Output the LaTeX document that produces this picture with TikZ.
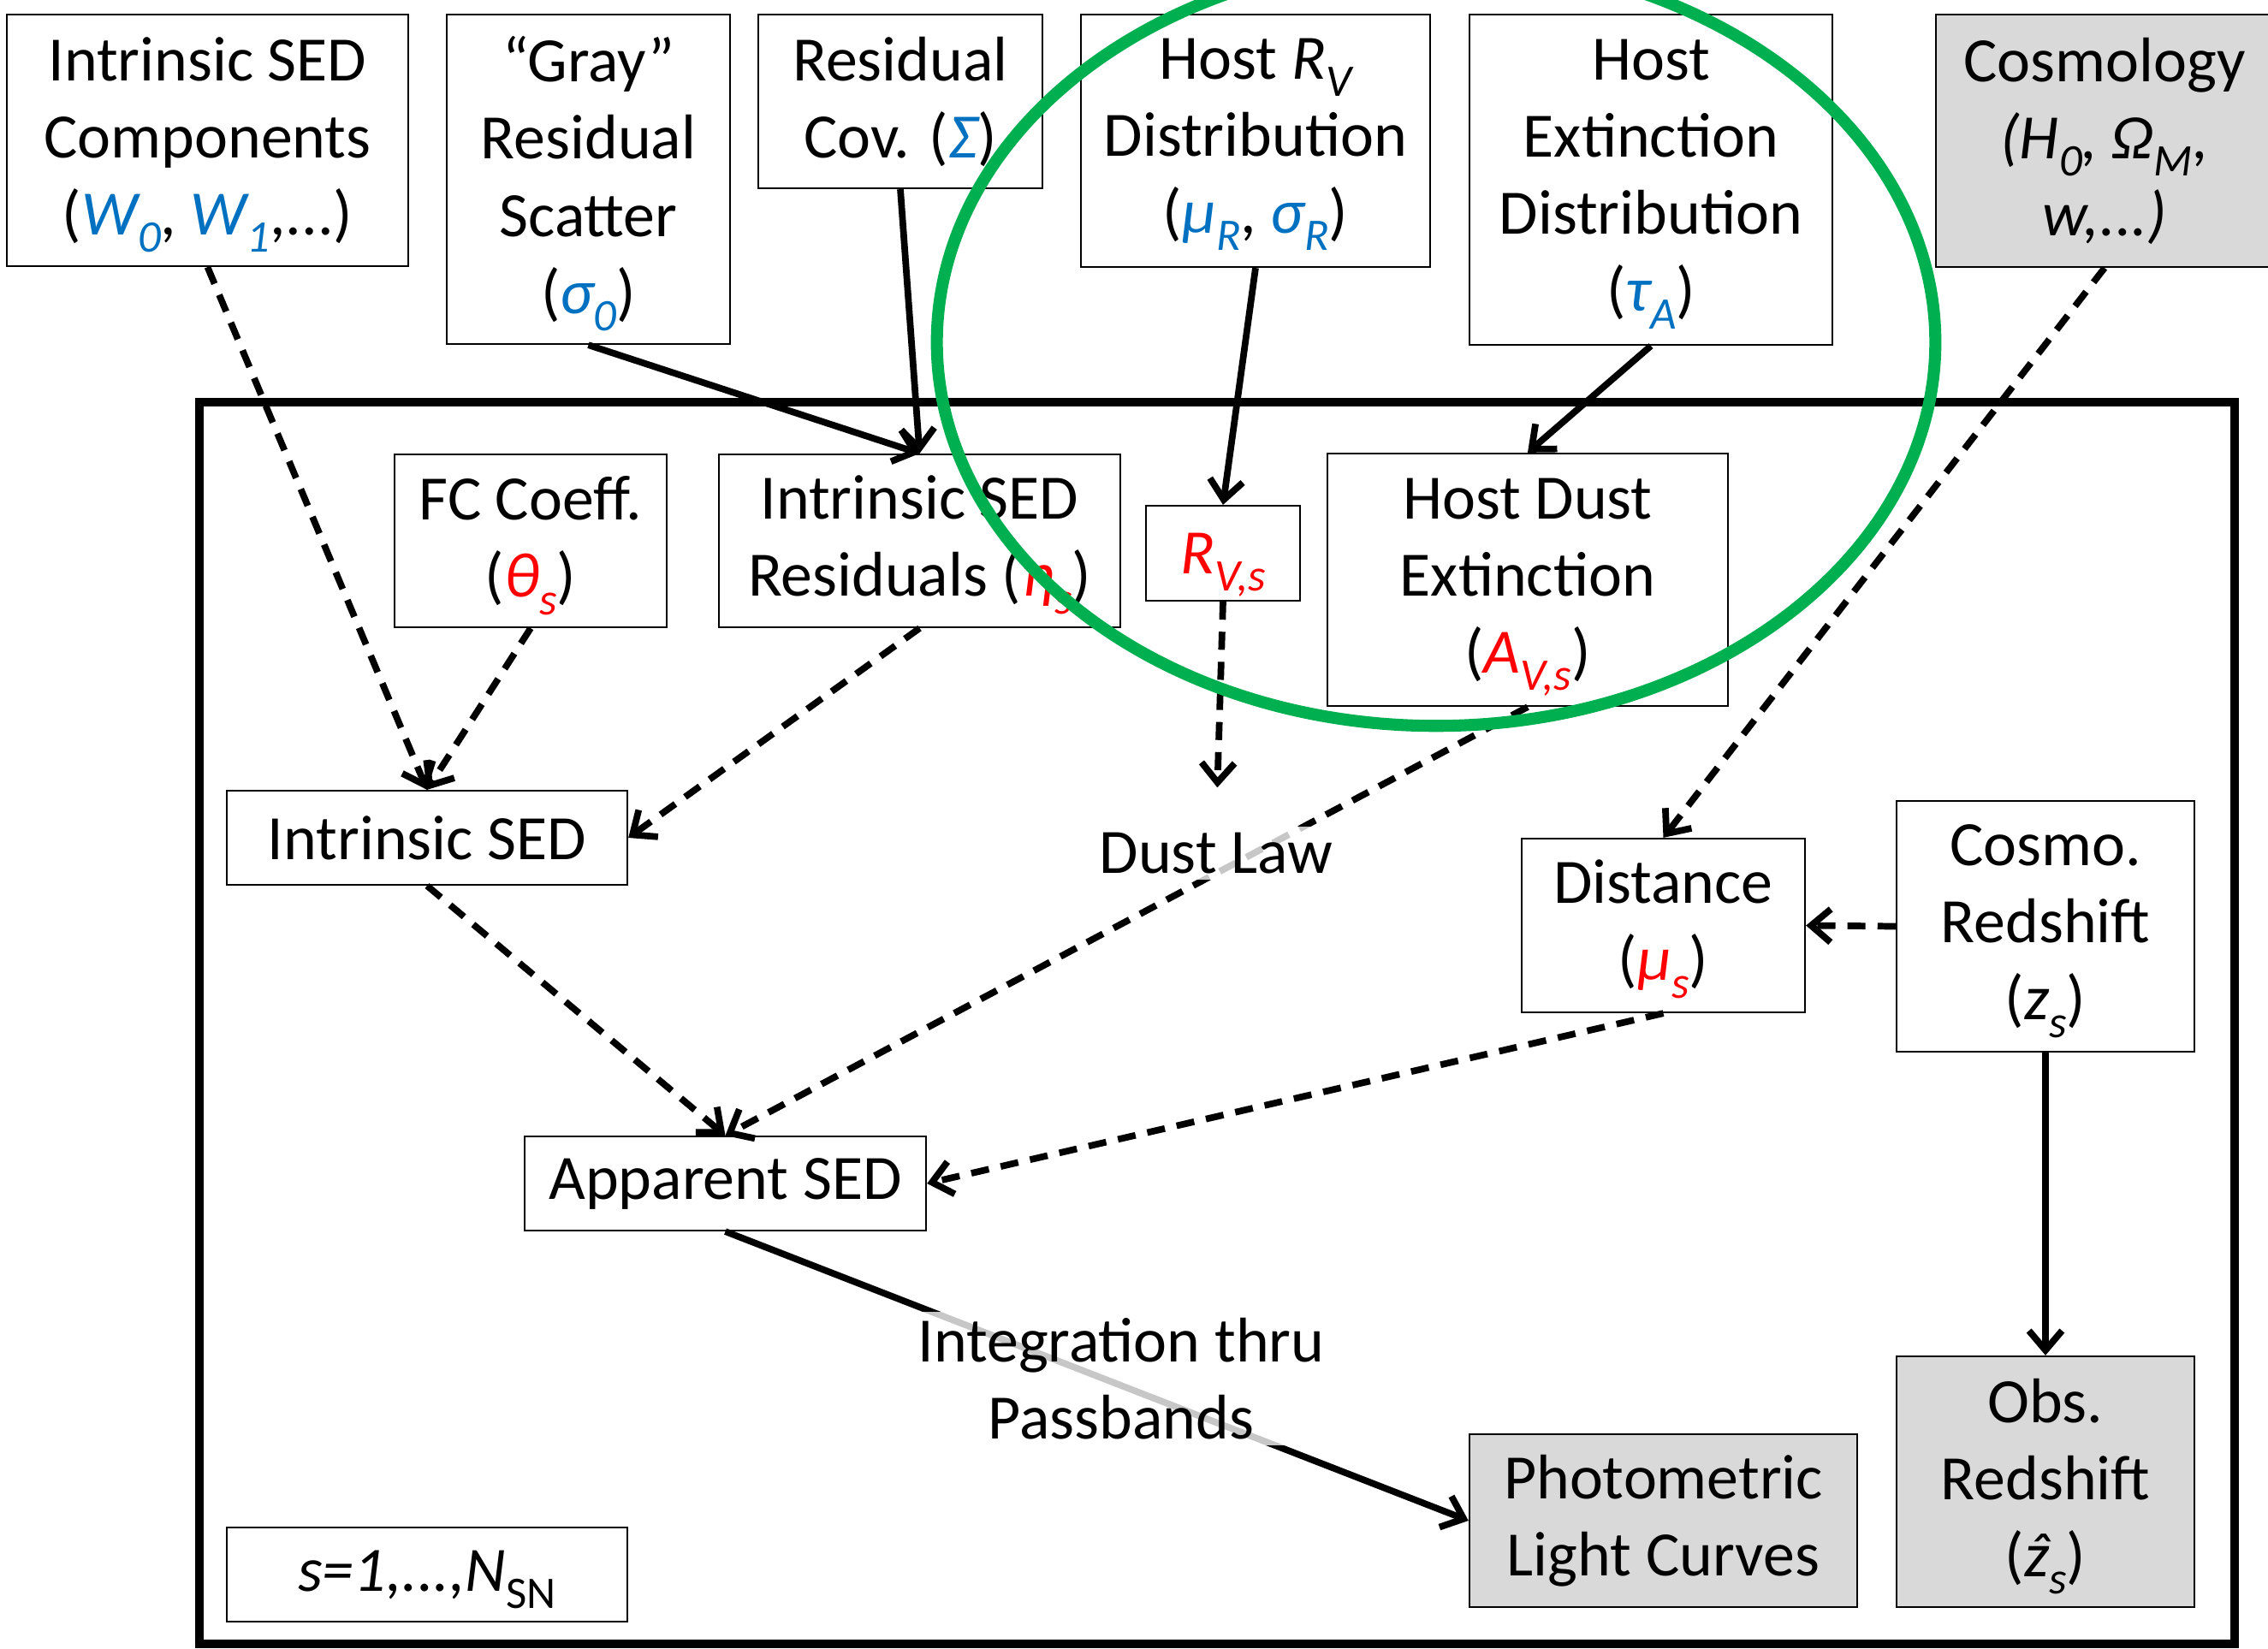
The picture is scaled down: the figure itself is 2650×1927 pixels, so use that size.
\documentclass[tikz,border=0pt]{standalone}
\usepackage{fontspec}
\setmainfont{Carlito}
\usepackage{tikz}
\usetikzlibrary{arrows.meta}
\definecolor{bleu}{HTML}{0070C0}
\definecolor{rouge}{HTML}{FF0000}
\definecolor{vert}{HTML}{00B050}
\definecolor{gris}{HTML}{D9D9D9}
\newcommand{\lsub}[1]{\smash{\raisebox{-0.28em}{\fontsize{15}{15}\selectfont #1}}}
\newcommand{\zhat}{\ooalign{z\cr\hidewidth\kern0.12em ˆ\hidewidth\cr}}

\begin{document}
\begin{tikzpicture}[x=0.01cm,y=-0.01cm,
  box/.style={draw,line width=0.6pt,align=center,inner sep=0pt,font=\fontsize{21}{25.6}\selectfont},
  obs/.style={box,fill=gris},
  lbl/.style={align=center,inner sep=2pt,font=\fontsize{21}{25.6}\selectfont,fill=white,fill opacity=0.78,text opacity=1},
  dep/.style={line width=2.2pt,-{Straight Barb[length=6.5pt,width=11pt]}},
  ddep/.style={dep,dash pattern=on 6pt off 4pt}]
  \useasboundingbox (0,0) rectangle (2650,1927);
  \draw[line width=2.8pt] (233,470) rectangle (2611,1921);

  \node[box,minimum width=4.69cm,minimum height=2.94cm] (comp) at (242.5,164) {Intrinsic SED\\Components\\({\color{bleu}\itshape W\lsub{0}}, {\color{bleu}\itshape W\lsub{1}},...)};
  \node[box,minimum width=3.31cm,minimum height=3.85cm] (gray) at (687.5,209.5) {“Gray”\\Residual\\Scatter\\({\color{bleu}\itshape σ\lsub{0}})};
  \node[box,minimum width=3.32cm,minimum height=2.03cm] (cov) at (1052,118.5) {Residual\\Cov. ({\color{bleu}\itshape Σ})};
  \node[box,minimum width=4.08cm,minimum height=2.95cm] (hostrv) at (1467,164.5) {Host {\itshape R\lsub{V}}\\Distribution\\({\color{bleu}\itshape μ\lsub{R}}, {\color{bleu}\itshape σ\lsub{R}})};
  \node[box,minimum width=4.24cm,minimum height=3.86cm] (hostext) at (1929,210) {Host\\Extinction\\Distribution\\({\color{bleu}\itshape τ\lsub{A}})};
  \node[obs,minimum width=3.94cm,minimum height=2.95cm] (cosmo) at (2459,164.5) {Cosmology\\{\itshape (H\lsub{0}, Ω\lsub{M},}\\{\itshape w,...)}};

  \node[box,minimum width=3.18cm,minimum height=2.02cm] (fc) at (620,632) {FC Coeff.\\({\color{rouge}\itshape θ\lsub{s}})};
  \node[box,minimum width=4.69cm,minimum height=2.02cm] (resid) at (1074.5,632) {Intrinsic SED\\Residuals ({\color{rouge}\itshape η\lsub{s}})};
  \node[box,minimum width=1.80cm,minimum height=1.11cm] (rvs) at (1429,646.5) {{\color{rouge}\itshape R\lsub{V,s}}};
  \node[box,minimum width=4.68cm,minimum height=2.95cm] (hostdust) at (1785,677.5) {Host Dust\\Extinction\\({\color{rouge}\itshape A\lsub{V,s}})};
  \node[box,minimum width=4.68cm,minimum height=1.10cm] (intsed) at (499,979) {Intrinsic SED};
  \node[box,minimum width=3.31cm,minimum height=2.03cm] (distance) at (1943.5,1081.5) {Distance\\({\color{rouge}\itshape μ\lsub{s}})};
  \node[box,minimum width=3.48cm,minimum height=2.93cm] (cosmoz) at (2390,1082.5) {Cosmo.\\Redshift\\({\itshape z\lsub{s}})};
  \node[box,minimum width=4.69cm,minimum height=1.10cm] (appsed) at (847.5,1383) {Apparent SED};
  \node[obs,minimum width=4.53cm,minimum height=2.02cm] (photo) at (1943.5,1777) {Photometric\\Light Curves};
  \node[obs,minimum width=3.48cm,minimum height=2.93cm] (obsz) at (2390,1731.5) {Obs.\\Redshift\\({\itshape \zhat\lsub{s}})};
  \node[box,minimum width=4.68cm,minimum height=1.10cm] (plate) at (499,1840) {{\itshape s=1,...,N}\lsub{SN}};

  \foreach \a/\b in {gray.south/resid.north,cov.south/resid.north,hostrv.south/rvs.north,
    hostext.south/hostdust.north,cosmoz.south/obsz.north,appsed.south/photo.west}
    \draw[dep] (\a) -- (\b);
  \foreach \a/\b in {comp.south/intsed.north,fc.south/intsed.north,resid.south/intsed.east,
    hostdust.south/appsed.north,intsed.south/appsed.north,distance.south/appsed.east,
    cosmo.south/distance.north,cosmoz.west/distance.east}
    \draw[ddep] (\a) -- (\b);

  \node[lbl] (dustlaw) at (1421,997) {Dust Law};
  \node[lbl] (integ) at (1310,1611) {Integration thru\\Passbands};
  \draw[ddep,shorten >=0.45cm] (rvs.south) -- (dustlaw.north);

  \draw[vert,line width=4pt] (1678,400) ellipse [x radius=5.83cm,y radius=4.48cm];
\end{tikzpicture}
\end{document}
